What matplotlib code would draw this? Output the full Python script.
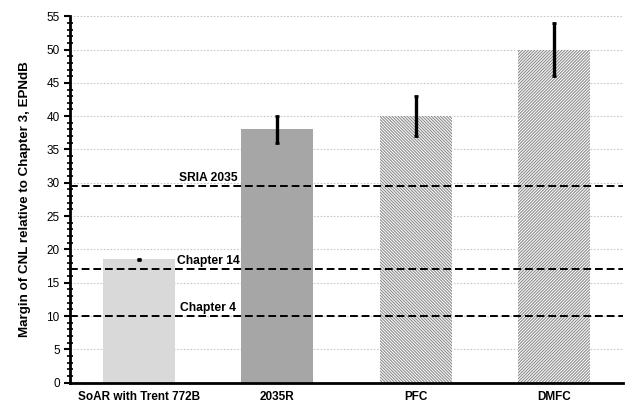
import matplotlib.pyplot as plt
from matplotlib.ticker import MultipleLocator

plt.rcParams['font.family'] = ['Liberation Sans', 'DejaVu Sans']
plt.rcParams['hatch.linewidth'] = 0.8

# Données
configs = ["SoAR with Trent 772B", "2035R", "PFC", "DMFC"]
marges = [18.5, 38.0, 40.0, 50.0]
incertitudes = [0.1, 2.0, 3.0, 4.0]
couleurs = ["#d9d9d9", "#a6a6a6", "white", "white"]
hachures = [None, None, "\\" * 11, "/" * 11]

limites = [29.5, 17.0, 10.0]
noms_limites = ["SRIA 2035", "Chapter 14", "Chapter 4"]

fig, ax = plt.subplots(figsize=(6.26, 4.05), dpi=100)
fig.subplots_adjust(left=0.112, right=0.995, bottom=0.055, top=0.96)

x = list(range(len(configs)))
barres = ax.bar(x, marges, width=0.52, color=couleurs, zorder=2, linewidth=0)
for b, h in zip(barres, hachures):
    if h:
        b.set_hatch(h)
        b.set_edgecolor("#8c8c8c")

ax.errorbar(x, marges, yerr=incertitudes, fmt="none", ecolor="black",
            elinewidth=2.4, capsize=1.5, capthick=2.0, zorder=4)

for val, nom in zip(limites, noms_limites):
    ax.axhline(val, color="black", linestyle=(0, (4, 2)), linewidth=1.4, zorder=3)
    ax.text(0.5, val + 0.3, nom, ha="center", va="bottom", fontsize=8.7,
            fontweight="bold", zorder=5)

ax.set_xlim(-0.5, 3.5)
ax.set_ylim(0, 55)
ax.yaxis.set_major_locator(MultipleLocator(5))
ax.yaxis.set_minor_locator(MultipleLocator(1))
ax.tick_params(axis="y", which="major", direction="out", length=4, width=1.5, labelsize=8.5)
ax.tick_params(axis="y", which="minor", direction="inout", length=4, width=1.2)
ax.tick_params(axis="x", length=0, labelsize=8.5, pad=6)
ax.set_xticks(x)
ax.set_xticklabels(configs, fontweight="bold")

ax.grid(axis="y", color="#c8c8c8", linestyle=(0, (1.5, 1.5)), linewidth=0.8, zorder=0)
ax.set_axisbelow(True)

for cote in ["top", "right"]:
    ax.spines[cote].set_visible(False)
ax.spines["left"].set_linewidth(2.0)
ax.spines["bottom"].set_linewidth(2.0)

ax.set_ylabel("Margin of CNL relative to Chapter 3, EPNdB", fontsize=9.6,
              fontweight="bold", labelpad=11)

plt.savefig("out.png", dpi=100)
